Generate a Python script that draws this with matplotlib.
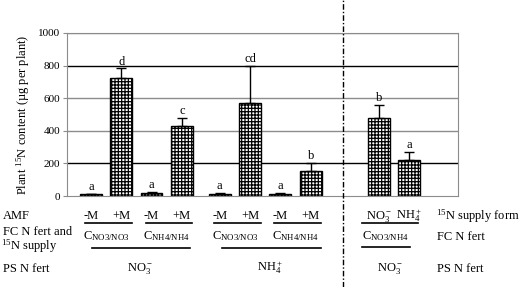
import matplotlib
matplotlib.use('Agg')
import matplotlib.pyplot as plt
import matplotlib.transforms as mtrans
from matplotlib.lines import Line2D

plt.rcParams['font.family'] = ['Liberation Serif', 'DejaVu Serif']
plt.rcParams['mathtext.fontset'] = 'custom'
plt.rcParams['mathtext.rm'] = 'Liberation Serif'
plt.rcParams['mathtext.it'] = 'Liberation Serif:italic'
plt.rcParams['hatch.linewidth'] = 0.9

# data
amf = ['-M', '+M', '-M', '+M', '-M', '+M', '-M', '+M', r'NO$_3^-$', r'NH$_4^+$']
values = [10, 725, 20, 432, 15, 568, 12, 153, 478, 223]
errors = [3, 58, 5, 45, 6, 230, 5, 50, 82, 50]
letters = ['a', 'd', 'a', 'c', 'a', 'cd', 'a', 'b', 'b', 'a']
fc_labels = [r'C$_{\mathrm{NO3/NO3}}$', r'C$_{\mathrm{NH4/NH4}}$',
             r'C$_{\mathrm{NO3/NO3}}$', r'C$_{\mathrm{NH4/NH4}}$',
             r'C$_{\mathrm{NO3/NH4}}$']
ps_labels = [r'NO$_3^-$', r'NH$_4^+$', r'NO$_3^-$']
yticks = [0, 200, 400, 600, 800, 1000]

pos = [0, 1, 2, 3, 4.25, 5.25, 6.25, 7.25, 9.5, 10.5]

W, H = 519, 287
fig = plt.figure(figsize=(W / 100, H / 100), dpi=100)
ax = fig.add_axes([67 / W, 1 - 196 / H, (458 - 67) / W, (196 - 33) / H])
FS = 9


def fy(py):
    return 1 - py / H


for v in yticks[1:]:
    c = 'black' if v in (200, 800) else '#8c8c8c'
    ax.axhline(v, color=c, lw=1.0, zorder=0)

ax.bar(pos, values, width=0.72, color='white', edgecolor='black', lw=1.0,
       hatch='+++++', zorder=2)
ax.errorbar(pos, values, yerr=[[0] * len(errors), errors], fmt='none',
            ecolor='black', elinewidth=1.0, capsize=3.5, capthick=1.0, zorder=3)
for x, v, e, t in zip(pos, values, errors, letters):
    ax.text(x, v + e + 5, t, ha='center', va='bottom', fontsize=FS)

ax.set_xlim(-0.79, 12.11)
ax.set_ylim(0, 1000)
ax.set_yticks(yticks)
ax.set_xticks([])
ax.tick_params(axis='y', direction='out', length=3, color='#8c8c8c',
               labelsize=8, pad=2)
for s in ax.spines.values():
    s.set_color('#8c8c8c')
ax.set_ylabel(r'Plant $^{15}$N content (µg per plant)', fontsize=9, labelpad=4)

tr = mtrans.blended_transform_factory(ax.transData, fig.transFigure)

# AMF / supply row
for x, t in zip(pos, amf):
    ax.text(x, fy(216), t, transform=tr, ha='center', va='center',
            fontsize=FS, clip_on=False)
for i in (0, 2, 4, 6):
    fig.add_artist(Line2D([pos[i] - 0.2, pos[i + 1] + 0.35], [fy(222.5)] * 2,
                          transform=tr, color='black', lw=1.2))
fig.add_artist(Line2D([362 / W, 418 / W], [fy(223)] * 2, color='black', lw=1.2))

# FC N fert row
fc_x = [(pos[0] + pos[1]) / 2, (pos[2] + pos[3]) / 2, (pos[4] + pos[5]) / 2,
        (pos[6] + pos[7]) / 2, (pos[8] + pos[9]) / 2 - 0.3]
for x, t in zip(fc_x, fc_labels):
    ax.text(x, fy(236), t, transform=tr, ha='center', va='center',
            fontsize=FS, clip_on=False)
for x0, x1 in [(92, 190), (222, 321)]:
    fig.add_artist(Line2D([x0 / W, x1 / W], [fy(248)] * 2, color='black', lw=1.2))
fig.add_artist(Line2D([362 / W, 410 / W], [fy(247)] * 2, color='black', lw=1.2))

# PS N fert row
for px, t in zip([140, 270, 390], ps_labels):
    fig.text(px / W, fy(268), t, ha='center', va='center', fontsize=FS)

# left captions
fig.text(3 / W, fy(216), 'AMF', ha='left', va='center', fontsize=FS)
fig.text(3 / W, fy(232), 'FC N fert and', ha='left', va='center', fontsize=FS)
fig.text(1 / W, fy(246), r'$^{15}$N supply', ha='left', va='center', fontsize=FS)
fig.text(3 / W, fy(269), 'PS N fert', ha='left', va='center', fontsize=FS)

# right captions
fig.text(436 / W, fy(216), r'$^{15}$N supply form', ha='left', va='center', fontsize=FS)
fig.text(437 / W, fy(237), 'FC N fert', ha='left', va='center', fontsize=FS)
fig.text(437 / W, fy(269), 'PS N fert', ha='left', va='center', fontsize=FS)

# separator
fig.add_artist(Line2D([343 / W, 343 / W], [0, 1], color='black', lw=1.0,
                      linestyle=(0, (4, 1.5, 1, 1.5))))

fig.savefig('out.png', dpi=100)
